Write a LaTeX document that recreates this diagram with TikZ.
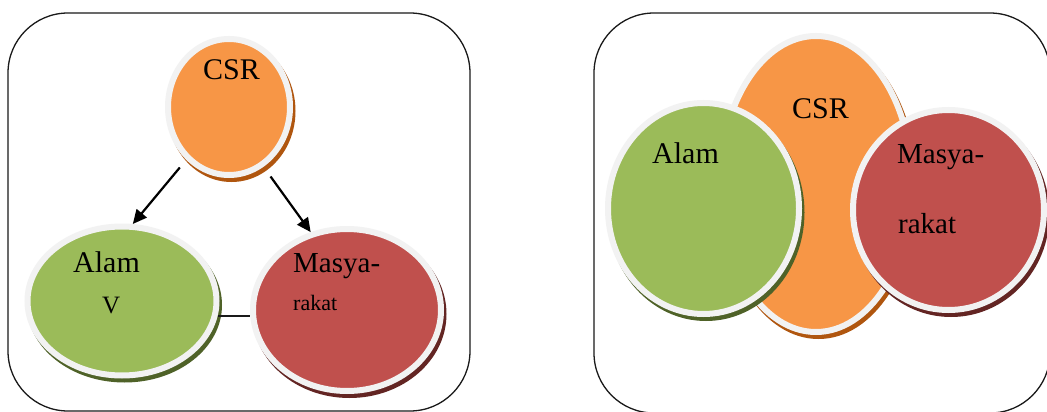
\documentclass[tikz,border=0pt]{standalone}
\usepackage{fontspec}
\setmainfont{Liberation Serif}
\usetikzlibrary{arrows.meta,shapes.geometric}
\definecolor{orgc}{HTML}{F79646}
\definecolor{orgd}{HTML}{B0560F}
\definecolor{grnc}{HTML}{9BBB59}
\definecolor{grnd}{HTML}{4F6228}
\definecolor{redc}{HTML}{C0504D}
\definecolor{redd}{HTML}{632523}
\definecolor{ringc}{HTML}{F2F2F2}
\definecolor{panelc}{HTML}{1A1A1A}
\begin{document}
\begin{tikzpicture}[x=1pt,y=-1pt]
\tikzset{
 ring/.style={ellipse, draw=ringc, line width=6pt, inner sep=0pt},
 dshade/.style={preaction={fill=#1, draw=#1, line width=6pt, transform canvas={shift={(2.5pt,-4pt)}}}},
 panel/.style={draw=panelc, line width=1.3pt, rounded corners=60pt},
 lbl/.style={anchor=base west, inner sep=0pt, font=\fontsize{#1}{#1}\selectfont},
 arr/.style={-{Triangle[length=14pt,width=13pt]}, line width=2.2pt},
}
\useasboundingbox (0,0) rectangle (1047,412);
\fill[white] (0,0) rectangle (1047,412);
% panels
\draw[panel] (8,13) rectangle (470,411);
\draw[panel] (594,13) rectangle (1050,413);
% left diagram
\node[ring, fill=orgc, dshade=orgd, minimum width=122pt, minimum height=136pt] (csrL) at (229,107) {};
\node[ring, fill=grnc, dshade=grnd, minimum width=189pt, minimum height=149pt] (alamL) at (122,301) {};
\node[ring, fill=redc, dshade=redd, minimum width=188pt, minimum height=162pt] (masL) at (347,310) {};
\draw[arr, shorten <=10pt] (csrL.231) -- (alamL.82);
\draw[arr, shorten <=12pt] (csrL.-60) -- (masL.115);
\draw[line width=1.3pt, panelc] (alamL.-9) -- (alamL.-9 -| masL.west);
\node[lbl=30] (tcsrL) at (203,80) {CSR};
\node[lbl=30] (talamL) at (73,272) {Alam};
\node[lbl=25] (tvL) at (102,313) {V};
\node[lbl=29] (tmasL) at (293,272) {Masya-};
\node[lbl=22] (trakL) at (293,310) {rakat};
% right diagram
\node[ring, fill=orgc, dshade=orgd, minimum width=192pt, minimum height=296pt] (csrR) at (816,184) {};
\node[ring, fill=grnc, dshade=grnd, minimum width=191pt, minimum height=211pt] (alamR) at (703.5,208.5) {};
\node[ring, fill=redc, dshade=redd, minimum width=191pt, minimum height=200pt] (masR) at (948.5,210) {};
\node[lbl=30] (tcsrR) at (792,118) {CSR};
\node[lbl=30] (talamR) at (652,163) {Alam};
\node[lbl=29] (tmasR) at (897,163) {Masya-};
\node[lbl=29] (trakR) at (898,233) {rakat};
\end{tikzpicture}
\end{document}
